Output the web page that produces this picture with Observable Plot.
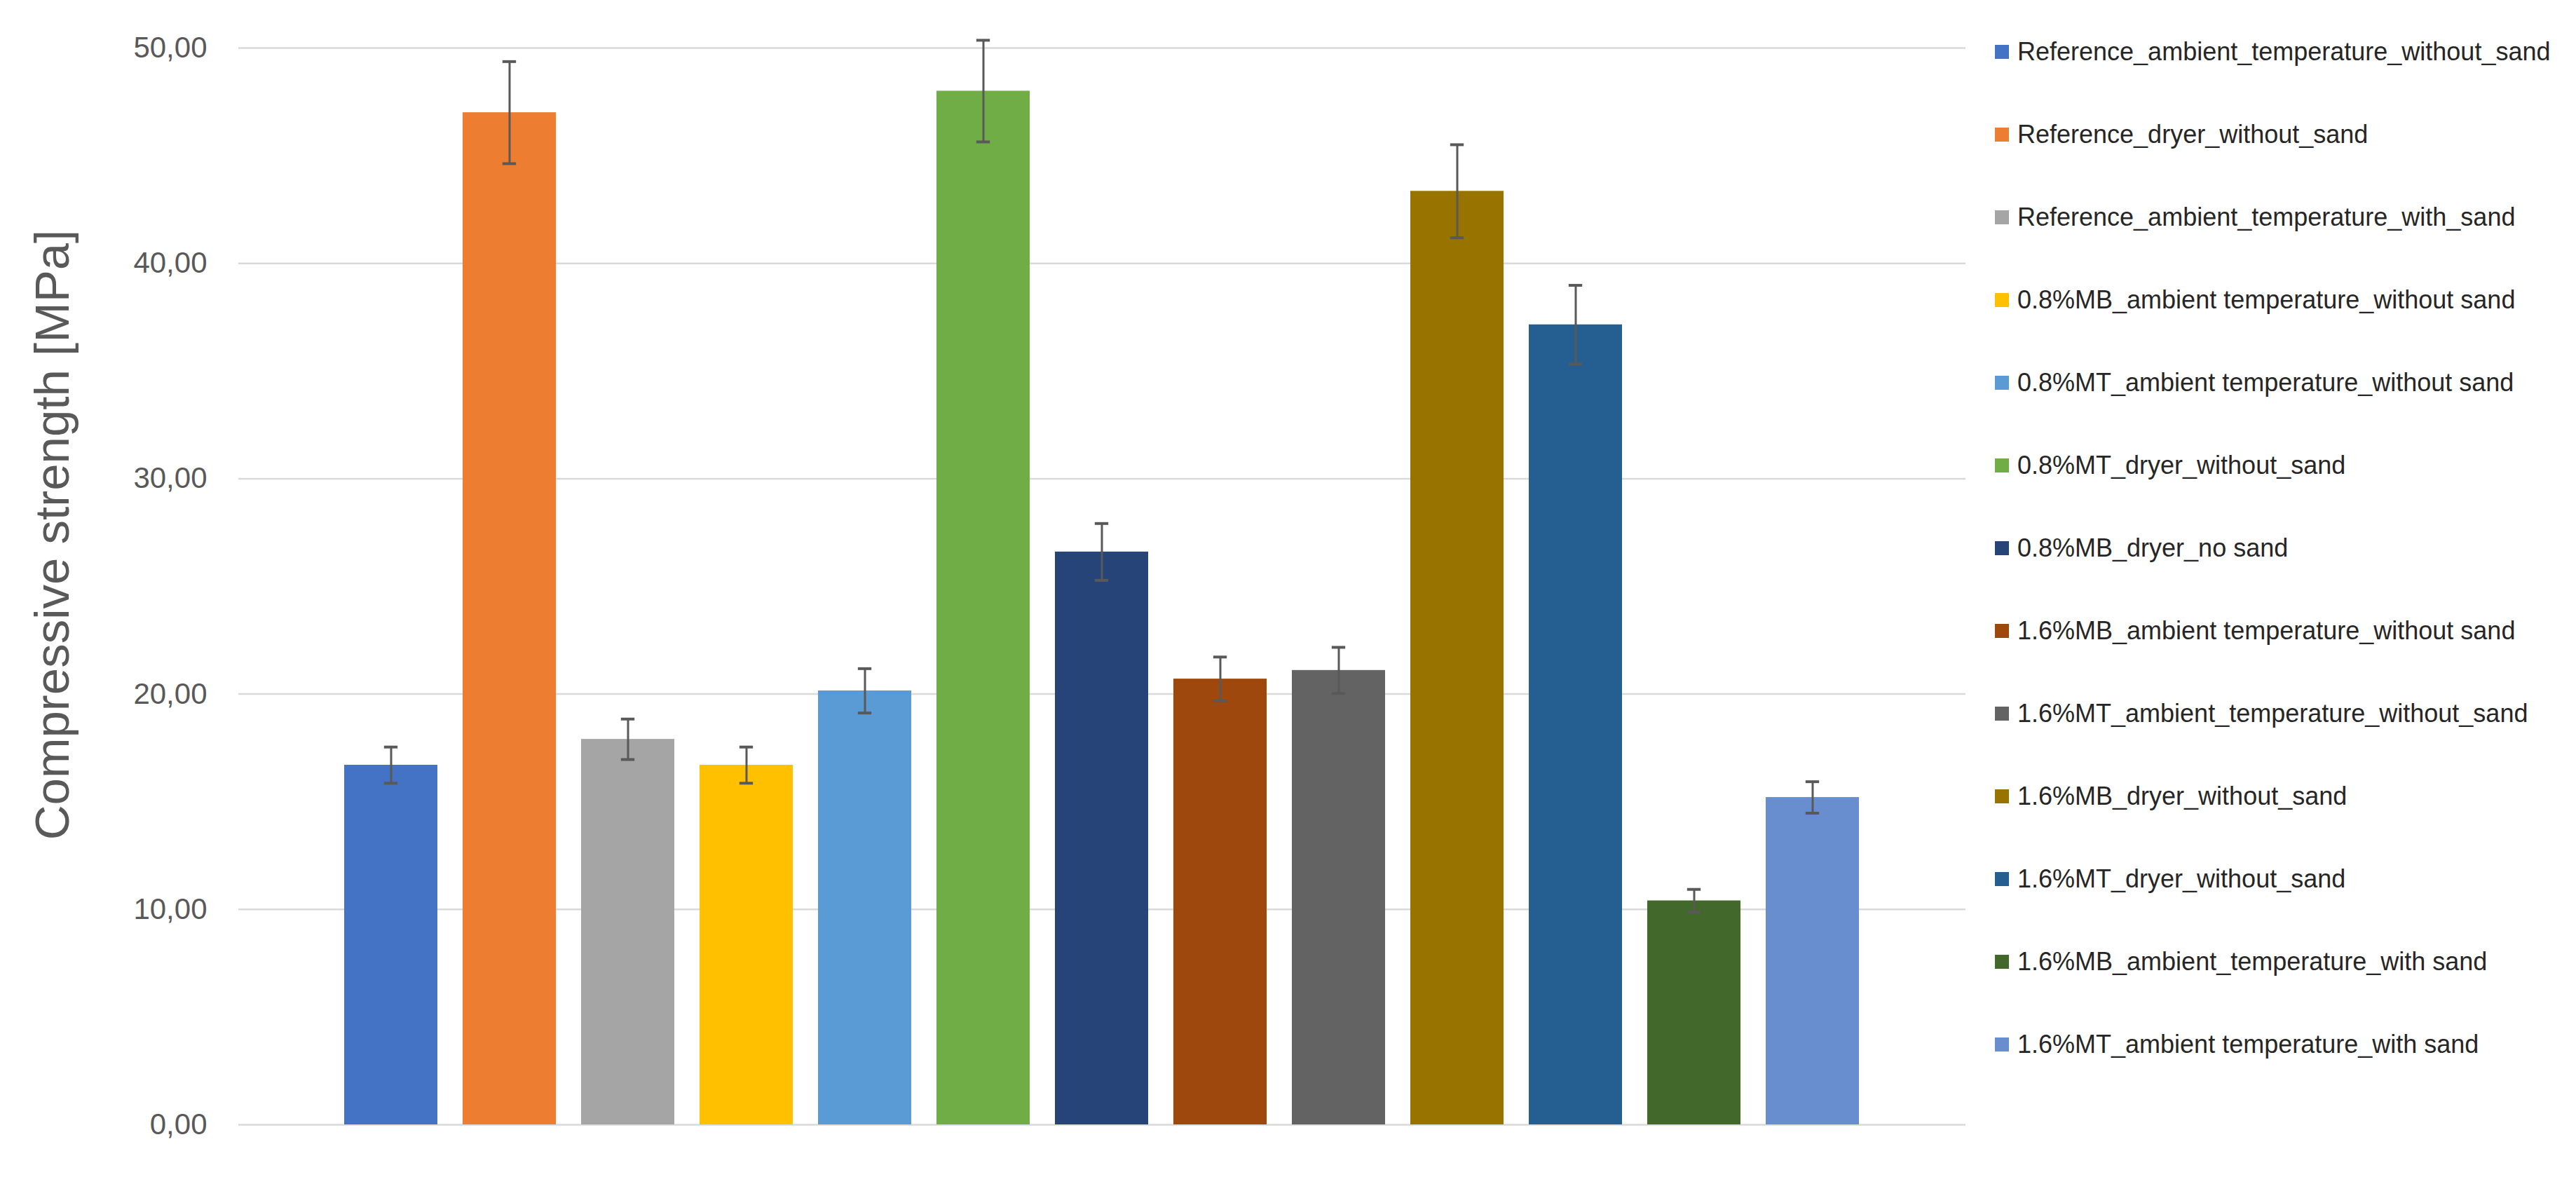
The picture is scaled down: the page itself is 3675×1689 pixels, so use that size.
<!DOCTYPE html>
<html>
<head>
<meta charset="utf-8">
<script src="https://cdn.jsdelivr.net/npm/d3@7"></script>
<script src="https://cdn.jsdelivr.net/npm/@observablehq/plot@0.6"></script>
<style>
  html, body { margin: 0; padding: 0; background: #fff; }
  #wrap { position: relative; width: 3675px; height: 1689px; overflow: hidden; font-family: "Liberation Sans", Arial, sans-serif; }
  #chart { position: absolute; left: 0; top: 0; }
  #ytitle { position: absolute; width: 1000px; left: -425px; top: 728px; height: 70px; line-height: 70px; text-align: center;
            font-size: 69px; color: #595959; transform: rotate(-90deg); transform-origin: 50% 50%; white-space: nowrap; }
  #legend { position: absolute; left: 2846px; top: 0; }
  .row { position: absolute; left: 0; display: flex; align-items: center; height: 40px; white-space: nowrap; }
  .sw { width: 20px; height: 20px; flex: none; }
  .lab { margin-left: 12px; font-size: 36px; color: #262626; }
</style>
</head>
<body>
<div id="wrap">
  <div id="chart"></div>
  <div id="ytitle">Compressive strength [MPa]</div>
  <div id="legend"></div>
</div>
<script>
const categories = [
  "Reference_ambient_temperature_without_sand",
  "Reference_dryer_without_sand",
  "Reference_ambient_temperature_with_sand",
  "0.8%MB_ambient temperature_without sand",
  "0.8%MT_ambient temperature_without sand",
  "0.8%MT_dryer_without_sand",
  "0.8%MB_dryer_no sand",
  "1.6%MB_ambient temperature_without sand",
  "1.6%MT_ambient_temperature_without_sand",
  "1.6%MB_dryer_without_sand",
  "1.6%MT_dryer_without_sand",
  "1.6%MB_ambient_temperature_with sand",
  "1.6%MT_ambient temperature_with sand"
];
const strength = [16.7, 47.0, 17.9, 16.7, 20.15, 48.0, 26.6, 20.7, 21.1, 43.35, 37.15, 10.4, 15.2];
const errors   = [0.84, 2.37, 0.94, 0.84, 1.03, 2.36, 1.32, 1.02, 1.07, 2.16, 1.83, 0.53, 0.73];
const colors = ["#4472C4", "#ED7D31", "#A5A5A5", "#FFC000", "#5B9BD5", "#70AD47", "#264478",
                "#9E480E", "#636363", "#997300", "#255E91", "#43682B", "#698ED0"];
const yTicks = [0, 10, 20, 30, 40, 50];

const data = categories.map((c, i) => ({name: c, value: strength[i], err: errors[i]}));

const width = 2804, height = 1689;
const marginLeft = 340, marginRight = 0, marginTop = 68, marginBottom = 85;
const paddingInner = 0.212, paddingOuter = 0.87;
const step = (width - marginLeft - marginRight) / (categories.length - paddingInner + 2 * paddingOuter);
const bandwidth = step * (1 - paddingInner);
const capWidth = 20;
const capInset = (bandwidth - capWidth) / 2;

const chart = Plot.plot({
  width, height, marginLeft, marginRight, marginTop, marginBottom,
  style: {fontFamily: "Liberation Sans, Arial, sans-serif", background: "#fff"},
  x: {domain: categories, paddingInner, paddingOuter, axis: null},
  y: {domain: [0, 50], axis: null},
  color: {type: "ordinal", domain: categories, range: colors},
  marks: [
    Plot.gridY(yTicks, {stroke: "#D9D9D9", strokeOpacity: 1, strokeWidth: 2.5}),
    Plot.axisY(yTicks, {
      tickSize: 0, tickPadding: 45, fontSize: 42, fill: "#595959",
      tickFormat: d => d.toFixed(2).replace(".", ","), label: null
    }),
    Plot.barY(data, {x: "name", y: "value", fill: "name"}),
    Plot.ruleX(data, {x: "name", y1: d => d.value - d.err, y2: d => d.value + d.err, stroke: "#595959", strokeWidth: 3}),
    Plot.tickY(data, {x: "name", y: d => d.value + d.err, stroke: "#595959", strokeWidth: 4, insetLeft: capInset, insetRight: capInset}),
    Plot.tickY(data, {x: "name", y: d => d.value - d.err, stroke: "#595959", strokeWidth: 4, insetLeft: capInset, insetRight: capInset})
  ]
});
document.getElementById("chart").appendChild(chart);

const legend = document.getElementById("legend");
const rowTop0 = 74, rowStep = 118;
categories.forEach((c, i) => {
  const row = document.createElement("div");
  row.className = "row";
  row.style.top = (rowTop0 + i * rowStep - 20) + "px";
  const sw = document.createElement("div");
  sw.className = "sw";
  sw.style.background = colors[i];
  const lab = document.createElement("span");
  lab.className = "lab";
  lab.textContent = c;
  row.appendChild(sw);
  row.appendChild(lab);
  legend.appendChild(row);
});
</script>
</body>
</html>
